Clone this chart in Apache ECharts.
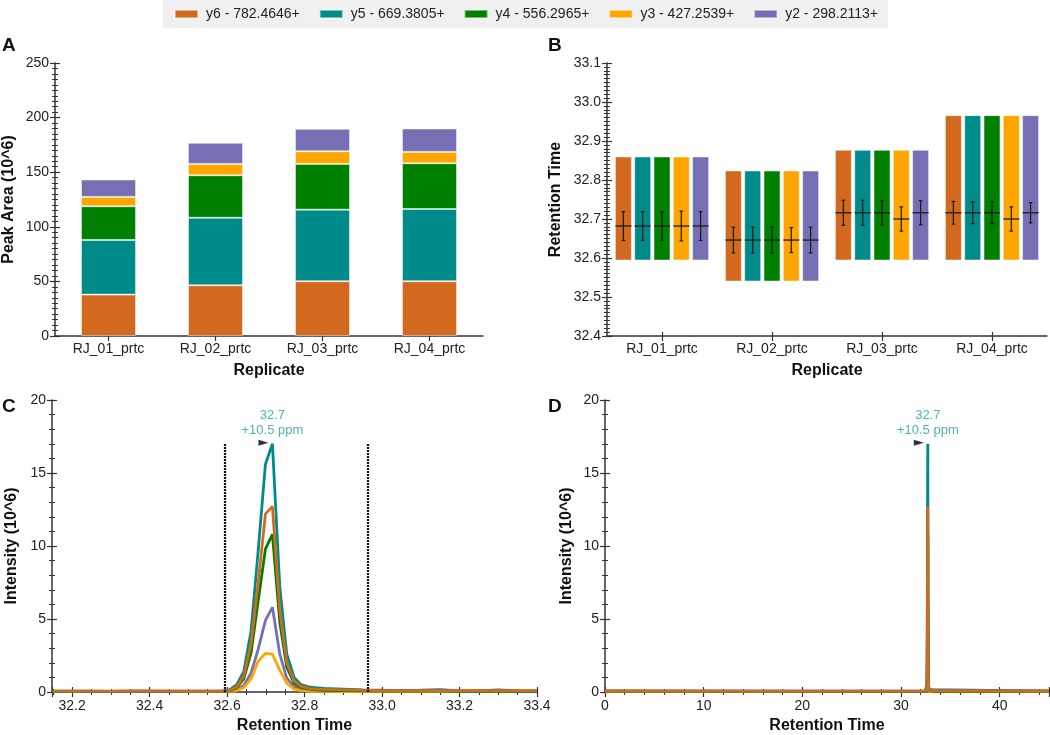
<!DOCTYPE html>
<html>
<head>
<meta charset="utf-8">
<script src="https://cdn.jsdelivr.net/npm/echarts@6/dist/echarts.min.js"></script>
<style>html,body{margin:0;padding:0;background:#fff}#main{width:1050px;height:735px}</style>
</head>
<body>
<div id="main"></div>
<script>
// ---------------- DATA ----------------
const CATEGORIES = ['RJ_01_prtc', 'RJ_02_prtc', 'RJ_03_prtc', 'RJ_04_prtc'];
const FRAGMENTS = ['y6 - 782.4646+', 'y5 - 669.3805+', 'y4 - 556.2965+', 'y3 - 427.2539+', 'y2 - 298.2113+'];
const COLORS = ['#D2691E', '#008B8B', '#008000', '#FFA500', '#7570B3'];

// Panel A: peak areas (10^6)
const AREA_Y6 = [37.9, 46.5, 50.2, 50.2];
const AREA_Y5 = [50.0, 61.8, 65.5, 66.1];
const AREA_Y4 = [30.9, 38.9, 41.9, 41.9];
const AREA_Y3 = [8.6, 10.4, 11.6, 10.4];
const AREA_Y2 = [15.9, 19.3, 20.5, 21.4];

// Panel B: retention time (integration start/end, mean, sd)
const RT_START = [32.595, 32.541, 32.595, 32.595];
const RT_END = [32.859, 32.823, 32.876, 32.965];
const RT_MEAN_Y6 = [32.682, 32.646, 32.716, 32.716];
const RT_MEAN_Y5 = [32.682, 32.646, 32.716, 32.716];
const RT_MEAN_Y4 = [32.682, 32.646, 32.716, 32.716];
const RT_MEAN_Y3 = [32.682, 32.646, 32.700, 32.700];
const RT_MEAN_Y2 = [32.682, 32.646, 32.716, 32.716];
const RT_SD_Y6 = [0.037, 0.033, 0.032, 0.029];
const RT_SD_Y5 = [0.037, 0.033, 0.032, 0.028];
const RT_SD_Y4 = [0.037, 0.033, 0.031, 0.028];
const RT_SD_Y3 = [0.038, 0.032, 0.031, 0.031];
const RT_SD_Y2 = [0.037, 0.033, 0.031, 0.026];

// Panels C/D: chromatogram (RJ_04), retention time (min) and intensity (10^6)
const RT = [32.15, 32.20, 32.25, 32.30, 32.35, 32.40, 32.45, 32.50, 32.55, 32.588,
  32.606, 32.625, 32.643, 32.662, 32.680, 32.699, 32.717, 32.736, 32.754, 32.773, 32.791, 32.810, 32.828,
  32.85, 32.90, 32.95, 33.00, 33.05, 33.10, 33.15, 33.20, 33.25, 33.30, 33.35, 33.40];
const INT_Y6 = [0.06, 0.06, 0.06, 0.06, 0.07, 0.07, 0.07, 0.05, 0.05, 0.06,
  0.08, 0.35, 1.1, 3.3, 7.4, 12.2, 12.7, 5.6, 2.0, 0.75, 0.38, 0.25, 0.2,
  0.18, 0.15, 0.12, 0.1, 0.1, 0.1, 0.1, 0.1, 0.1, 0.1, 0.1, 0.1];
const INT_Y5 = [0.06, 0.05, 0.05, 0.04, 0.05, 0.05, 0.04, 0.05, 0.06, 0.08,
  0.15, 0.5, 1.4, 4.2, 9.6, 15.6, 17.0, 7.2, 2.6, 1.0, 0.5, 0.35, 0.3,
  0.25, 0.2, 0.15, 0.12, 0.1, 0.12, 0.16, 0.08, 0.07, 0.15, 0.08, 0.06];
const INT_Y4 = [0.04, 0.04, 0.04, 0.04, 0.04, 0.04, 0.04, 0.04, 0.04, 0.05,
  0.06, 0.3, 0.9, 2.7, 6.2, 9.8, 10.8, 4.8, 1.7, 0.6, 0.3, 0.2, 0.15,
  0.12, 0.1, 0.08, 0.07, 0.06, 0.06, 0.06, 0.05, 0.05, 0.05, 0.05, 0.05];
const INT_Y3 = [0.02, 0.02, 0.02, 0.02, 0.02, 0.02, 0.02, 0.02, 0.02, 0.02,
  0.03, 0.1, 0.3, 0.9, 2.1, 2.65, 2.6, 1.5, 0.6, 0.2, 0.1, 0.06, 0.05,
  0.04, 0.03, 0.03, 0.03, 0.03, 0.03, 0.03, 0.03, 0.03, 0.03, 0.03, 0.03];
const INT_Y2 = [0.03, 0.03, 0.03, 0.03, 0.03, 0.03, 0.03, 0.03, 0.03, 0.03,
  0.04, 0.15, 0.45, 1.3, 2.9, 4.9, 5.8, 2.6, 0.95, 0.35, 0.18, 0.12, 0.1,
  0.08, 0.06, 0.05, 0.05, 0.04, 0.04, 0.04, 0.04, 0.04, 0.04, 0.04, 0.04];
const RUN_START = 0, RUN_END = 45, RUN_BASELINE = 0.05;
const BOUNDARIES = [32.595, 32.964];
const BOUNDARY_TOP = 17.0;
const APEX_RT = 32.717, APEX_INT = 17.0;
const APEX_LABEL = ['32.7', '+10.5 ppm'];

// ---------------- CHART ----------------
const FONT = '"Liberation Sans", Arial, sans-serif';
const AXIS_COL = '#333';
const AREAS = [AREA_Y6, AREA_Y5, AREA_Y4, AREA_Y3, AREA_Y2];
const MEANS = [RT_MEAN_Y6, RT_MEAN_Y5, RT_MEAN_Y4, RT_MEAN_Y3, RT_MEAN_Y2];
const SDS = [RT_SD_Y6, RT_SD_Y5, RT_SD_Y4, RT_SD_Y3, RT_SD_Y2];
const INTS = [INT_Y6, INT_Y5, INT_Y4, INT_Y3, INT_Y2];

const grids = [
  {left: 53, top: 63, width: 430, height: 273},
  {left: 607, top: 63, width: 440, height: 273},
  {left: 52, top: 400, width: 485, height: 295},
  {left: 605, top: 400, width: 444, height: 295}
];

const labelStyle = {color: '#222', fontSize: 14, fontFamily: FONT};
const nameStyle = {color: '#111', fontSize: 16, fontWeight: 'bold', fontFamily: FONT};

function mainAxis(extra) {
  return Object.assign({
    axisLine: {show: true, onZero: false, lineStyle: {color: AXIS_COL, width: 1.5}},
    axisTick: {show: true, length: 5, lineStyle: {color: AXIS_COL, width: 1.2}},
    minorTick: {show: false},
    splitLine: {show: false},
    axisLabel: Object.assign({margin: 6}, labelStyle),
    nameTextStyle: nameStyle,
    nameLocation: 'middle'
  }, extra);
}
function innerAxis(extra, minor, minorLen) {
  return Object.assign({
    axisLine: {show: false, onZero: false},
    axisTick: {show: true, inside: true, length: 5, lineStyle: {color: AXIS_COL, width: 1.2}},
    minorTick: {show: !!minor, splitNumber: minor || 5, length: minorLen || 3, lineStyle: {color: AXIS_COL, width: 1}},
    splitLine: {show: false},
    axisLabel: {show: false}
  }, extra);
}

const xAxes = [], yAxes = [];
// A
xAxes.push(mainAxis({gridIndex: 0, type: 'category', data: CATEGORIES, axisTick: {show: true, alignWithLabel: true, length: 5, lineStyle: {color: AXIS_COL, width: 1.2}}, name: 'Replicate', nameGap: 27}));
xAxes.push(innerAxis({gridIndex: 0, type: 'category', data: CATEGORIES, position: 'bottom', axisTick: {show: true, inside: true, alignWithLabel: true, length: 4, lineStyle: {color: AXIS_COL, width: 1.2}}}));
yAxes.push(mainAxis({gridIndex: 0, type: 'value', min: 0, max: 250, interval: 50, name: 'Peak Area (10^6)', nameGap: 38,
  minorTick: {show: true, splitNumber: 10, length: 3, lineStyle: {color: AXIS_COL, width: 1}}}));
yAxes.push(innerAxis({gridIndex: 0, type: 'value', min: 0, max: 250, interval: 50, position: 'left'}, 10));
// B
xAxes.push(mainAxis({gridIndex: 1, type: 'category', data: CATEGORIES, axisTick: {show: true, alignWithLabel: true, length: 5, lineStyle: {color: AXIS_COL, width: 1.2}}, name: 'Replicate', nameGap: 27}));
xAxes.push(innerAxis({gridIndex: 1, type: 'category', data: CATEGORIES, position: 'bottom', axisTick: {show: true, inside: true, alignWithLabel: true, length: 4, lineStyle: {color: AXIS_COL, width: 1.2}}}));
yAxes.push(mainAxis({gridIndex: 1, type: 'value', min: 32.4, max: 33.1, interval: 0.1, name: 'Retention Time', nameGap: 43,
  axisLabel: Object.assign({margin: 6, formatter: v => v.toFixed(1)}, labelStyle),
  minorTick: {show: true, splitNumber: 10, length: 3, lineStyle: {color: AXIS_COL, width: 1}}}));
yAxes.push(innerAxis({gridIndex: 1, type: 'value', min: 32.4, max: 33.1, interval: 0.1, position: 'left'}, 10));
// C
xAxes.push(mainAxis({gridIndex: 2, type: 'value', min: 32.148, max: 33.4, splitNumber: 6, name: 'Retention Time', nameGap: 26,
  axisLabel: Object.assign({margin: 7, showMinLabel: false, formatter: v => v.toFixed(1)}, labelStyle),
  minorTick: {show: true, splitNumber: 4, length: 3, lineStyle: {color: AXIS_COL, width: 1}}}));
xAxes.push(innerAxis({gridIndex: 2, type: 'value', min: 32.148, max: 33.4, splitNumber: 6, position: 'bottom'}, 4));
yAxes.push(mainAxis({gridIndex: 2, type: 'value', min: 0, max: 20, interval: 5, name: 'Intensity (10^6)', nameGap: 32,
  minorTick: {show: true, splitNumber: 5, length: 3, lineStyle: {color: AXIS_COL, width: 1}}}));
yAxes.push(innerAxis({gridIndex: 2, type: 'value', min: 0, max: 20, interval: 5, position: 'left'}, 5));
// D
xAxes.push(mainAxis({gridIndex: 3, type: 'value', min: RUN_START, max: RUN_END, interval: 10, name: 'Retention Time', nameGap: 26,
  axisLabel: Object.assign({margin: 7, showMaxLabel: false}, labelStyle),
  minorTick: {show: true, splitNumber: 5, length: 3, lineStyle: {color: AXIS_COL, width: 1}}}));
xAxes.push(innerAxis({gridIndex: 3, type: 'value', min: RUN_START, max: RUN_END, interval: 10, position: 'bottom'}, 5));
yAxes.push(mainAxis({gridIndex: 3, type: 'value', min: 0, max: 20, interval: 5, name: 'Intensity (10^6)', nameGap: 30,
  minorTick: {show: true, splitNumber: 5, length: 3, lineStyle: {color: AXIS_COL, width: 1}}}));
yAxes.push(innerAxis({gridIndex: 3, type: 'value', min: 0, max: 20, interval: 5, position: 'left'}, 5));

const series = [];
// A: stacked bars
FRAGMENTS.forEach((name, k) => {
  series.push({
    type: 'bar', name, xAxisIndex: 0, yAxisIndex: 0, stack: 'area', barWidth: 55,
    itemStyle: {color: COLORS[k], borderColor: 'rgba(255,255,255,0.45)', borderWidth: 1},
    data: AREAS[k]
  });
});
// B: retention time ranges with mean +/- sd
FRAGMENTS.forEach((name, k) => {
  const data = CATEGORIES.map((c, i) => [i, RT_START[i], RT_END[i], MEANS[k][i], SDS[k][i]]);
  series.push({
    type: 'custom', name, xAxisIndex: 2, yAxisIndex: 2, itemStyle: {color: COLORS[k]},
    encode: {x: 0, y: [1, 2, 3]},
    data,
    renderItem: function (params, api) {
      const cat = api.value(0), lo = api.value(1), hi = api.value(2), mean = api.value(3), sd = api.value(4);
      const band = api.size([1, 0])[0];
      const c = api.coord([cat, mean]);
      const step = band * 0.1755, w = band * 0.145;
      const cx = c[0] + (k - 2) * step;
      const yHi = api.coord([cat, hi])[1], yLo = api.coord([cat, lo])[1];
      const yT = api.coord([cat, mean + sd])[1], yB = api.coord([cat, mean - sd])[1];
      const ink = '#1a1a1a';
      return {type: 'group', children: [
        {type: 'rect', shape: {x: cx - w / 2, y: yHi, width: w, height: yLo - yHi}, style: {fill: COLORS[k], stroke: 'rgba(255,255,255,0.45)', lineWidth: 1}},
        {type: 'line', shape: {x1: cx - w / 2, y1: c[1], x2: cx + w / 2, y2: c[1]}, style: {stroke: ink, lineWidth: 1.3}},
        {type: 'line', shape: {x1: cx, y1: yT, x2: cx, y2: yB}, style: {stroke: ink, lineWidth: 1.2}},
        {type: 'line', shape: {x1: cx - 1.8, y1: yT, x2: cx + 1.8, y2: yT}, style: {stroke: ink, lineWidth: 1.2}},
        {type: 'line', shape: {x1: cx - 1.8, y1: yB, x2: cx + 1.8, y2: yB}, style: {stroke: ink, lineWidth: 1.2}}
      ]};
    }
  });
});
// C and D: chromatograms (draw y2 first, y6 last)
const drawOrder = [4, 3, 2, 1, 0];
drawOrder.forEach(k => {
  const pts = RT.map((t, i) => [t, INTS[k][i]]);
  series.push({
    type: 'line', name: FRAGMENTS[k], xAxisIndex: 4, yAxisIndex: 4, showSymbol: false, symbol: 'none',
    lineStyle: {color: COLORS[k], width: 2.8}, itemStyle: {color: COLORS[k]}, data: pts, clip: true, z: 3
  });
  series.push({
    type: 'line', name: FRAGMENTS[k], xAxisIndex: 6, yAxisIndex: 6, showSymbol: false, symbol: 'none',
    lineStyle: {color: COLORS[k], width: 2.8}, itemStyle: {color: COLORS[k]},
    data: [[RUN_START, RUN_BASELINE]].concat(pts, [[RUN_END, RUN_BASELINE]]), z: 3
  });
});
// Integration boundaries in C
series.push({
  type: 'line', name: 'boundaries', xAxisIndex: 4, yAxisIndex: 4, data: [], symbol: 'none',
  markLine: {
    silent: true, symbol: 'none', label: {show: false},
    lineStyle: {color: '#111', type: [2, 1], width: 2.2},
    data: BOUNDARIES.map(b => [{coord: [b, 0]}, {coord: [b, BOUNDARY_TOP]}])
  },
  z: 2
});
// Apex annotation (C and D)
[[4, 4], [6, 6]].forEach(([xi, yi]) => {
  series.push({
    type: 'scatter', name: 'apexFlag', xAxisIndex: xi, yAxisIndex: yi, data: [[APEX_RT, APEX_INT]],
    symbol: 'triangle', symbolSize: [6, 10], symbolRotate: -90, symbolOffset: [-9, -1],
    itemStyle: {color: '#000'}, silent: true, z: 5
  });
  series.push({
    type: 'scatter', name: 'apexLabel', xAxisIndex: xi, yAxisIndex: yi, data: [[APEX_RT, APEX_INT]],
    symbol: 'circle', symbolSize: 1, itemStyle: {color: 'rgba(0,0,0,0)'}, silent: true, z: 5,
    label: {show: true, position: 'top', distance: 5, formatter: APEX_LABEL.join('\n'),
      color: '#23A19D', fontSize: 13, lineHeight: 15, fontFamily: FONT, align: 'center'}
  });
});

const option = {
  animation: false,
  backgroundColor: '#fff',
  textStyle: {fontFamily: FONT},
  legend: {
    data: FRAGMENTS, left: 163, top: 0, padding: [7, 10, 7, 11],
    backgroundColor: '#f0f0f0', icon: 'rect', itemWidth: 23, itemHeight: 8, itemGap: 19,
    textStyle: {fontSize: 14, color: '#222', fontFamily: FONT, padding: [0, 0, 0, 3]},
    selectedMode: false
  },
  grid: grids,
  xAxis: xAxes,
  yAxis: yAxes,
  series,
  graphic: [
    {type: 'text', left: 2, top: 36, style: {text: 'A', font: 'bold 19px ' + FONT, fill: '#111'}},
    {type: 'text', left: 548, top: 36, style: {text: 'B', font: 'bold 19px ' + FONT, fill: '#111'}},
    {type: 'text', left: 2, top: 397, style: {text: 'C', font: 'bold 19px ' + FONT, fill: '#111'}},
    {type: 'text', left: 548, top: 397, style: {text: 'D', font: 'bold 19px ' + FONT, fill: '#111'}}
  ]
};

const chart = echarts.init(document.getElementById('main'), null, {renderer: 'canvas'});
chart.setOption(option);
</script>
</body>
</html>
